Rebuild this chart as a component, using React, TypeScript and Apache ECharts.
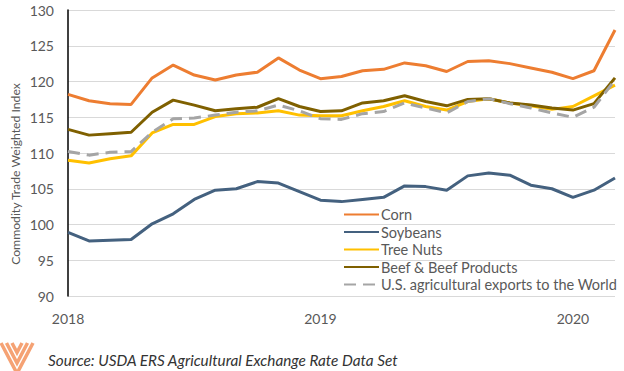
import React, { useEffect, useRef } from "react";
import * as echarts from "echarts";

const months: string[] = [
  "2018-01","2018-02","2018-03","2018-04","2018-05","2018-06","2018-07","2018-08","2018-09","2018-10","2018-11","2018-12",
  "2019-01","2019-02","2019-03","2019-04","2019-05","2019-06","2019-07","2019-08","2019-09","2019-10","2019-11","2019-12",
  "2020-01","2020-02","2020-03",
];
const xTickLabels: string[] = ["2018", "2019", "2020"];

const corn: number[] = [118.2,117.3,116.9,116.8,120.5,122.3,120.9,120.2,120.9,121.3,123.3,121.6,120.4,120.7,121.5,121.7,122.6,122.2,121.4,122.8,122.9,122.5,121.9,121.3,120.4,121.5,127.2];
const soybeans: number[] = [98.9,97.7,97.8,97.9,100.1,101.5,103.5,104.8,105.0,106.0,105.8,104.6,103.4,103.2,103.5,103.8,105.4,105.3,104.8,106.8,107.2,106.9,105.5,105.0,103.8,104.8,106.5];
const treeNuts: number[] = [109.0,108.6,109.2,109.6,112.8,114.0,114.0,115.1,115.5,115.6,115.9,115.3,115.2,115.2,115.9,116.5,117.3,116.5,116.0,117.2,117.6,117.0,116.6,116.1,116.5,118.0,119.5];
const beef: number[] = [113.3,112.5,112.7,112.9,115.7,117.4,116.7,115.9,116.2,116.4,117.6,116.5,115.8,115.9,117.0,117.3,118.0,117.2,116.6,117.5,117.6,117.0,116.7,116.3,116.0,116.9,120.5];
const usAgExports: number[] = [110.2,109.7,110.1,110.2,112.9,114.8,114.9,115.3,115.7,115.9,116.7,115.9,114.8,114.7,115.5,115.8,117.0,116.3,115.6,117.2,117.6,116.9,116.3,115.6,115.0,116.4,120.2];

const seriesNames: string[] = [
  "Corn",
  "Soybeans",
  "Tree Nuts",
  "Beef & Beef Products",
  "U.S. agricultural exports to the World",
];

const FONT = "Lato, 'Open Sans', sans-serif";
const GRAY_TEXT = "#595959";

export default function App() {
  const ref = useRef<HTMLDivElement>(null);
  useEffect(() => {
    if (!ref.current) return;
    const chart = echarts.init(ref.current, undefined, { renderer: "svg" });
    const mk = (name: string, data: number[], color: string, dashed = false) => ({
      name,
      type: "line",
      data,
      symbol: "none",
      showSymbol: false,
      lineStyle: { color, width: 3, type: dashed ? [12, 7] : "solid" },
      itemStyle: { color },
    });
    const logoWidths = [5, 10.5, 16];
    chart.setOption({
      animation: false,
      textStyle: { fontFamily: FONT },
      grid: { left: 68, right: 9, top: 10, bottom: 75, containLabel: false },
      xAxis: {
        type: "category",
        data: months,
        boundaryGap: false,
        axisLine: { show: false },
        axisTick: { show: false },
        splitLine: { show: false },
        axisLabel: {
          interval: (i: number) => i % 12 === 0,
          formatter: (_v: string, i: number) => (i % 12 === 0 ? xTickLabels[i / 12] : ""),
          color: GRAY_TEXT,
          fontSize: 14,
          fontFamily: FONT,
          margin: 15,
        },
      },
      yAxis: {
        type: "value",
        min: 90,
        max: 130,
        interval: 5,
        axisLine: { show: true, lineStyle: { color: "#000", width: 1.5 } },
        axisTick: { show: false },
        splitLine: { lineStyle: { color: "#d9d9d9", width: 1 } },
        axisLabel: { color: GRAY_TEXT, fontSize: 14, fontFamily: FONT, margin: 14 },
      },
      legend: {
        orient: "vertical",
        left: 343,
        top: 207,
        padding: 0,
        itemWidth: 35,
        itemHeight: 12,
        itemGap: 2.5,
        data: seriesNames,
        itemStyle: { opacity: 0 },
        textStyle: { color: GRAY_TEXT, fontSize: 14.5, lineHeight: 14, fontFamily: FONT, padding: [0, 0, 0, -3] },
      },
      graphic: [
        {
          type: "text",
          x: 15,
          y: 174,
          rotation: Math.PI / 2,
          style: {
            text: "Commodity Trade Weighted Index",
            fill: GRAY_TEXT,
            font: `12.2px ${FONT}`,
            align: "center",
            verticalAlign: "middle",
          },
        },
        ...logoWidths.map((w) => ({
          type: "polyline",
          shape: { points: [[17 - w, 343], [17, 343 + w * 1.9], [17 + w, 343]] },
          style: { stroke: "#f5a274", lineWidth: 3.5, fill: null },
        })),
        {
          type: "text",
          left: 48,
          top: 352,
          style: {
            text: "Source: USDA ERS Agricultural Exchange Rate Data Set",
            fill: "#333",
            font: `italic 15.3px ${FONT}`,
          },
        },
      ],
      series: [
        mk(seriesNames[0], corn, "#ed7d31"),
        mk(seriesNames[1], soybeans, "#44617f"),
        mk(seriesNames[2], treeNuts, "#ffc000"),
        mk(seriesNames[3], beef, "#7f6000"),
        mk(seriesNames[4], usAgExports, "#a5a5a5", true),
      ],
    });
    return () => chart.dispose();
  }, []);
  return <div ref={ref} style={{ width: 624, height: 371, position: "absolute", left: 0, top: 0 }} />;
}
